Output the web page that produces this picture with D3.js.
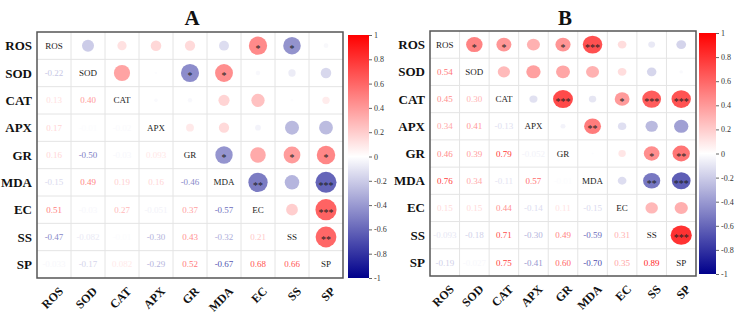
<!DOCTYPE html>
<html><head><meta charset="utf-8">
<script src="https://cdn.jsdelivr.net/npm/d3@7"></script>
<style>body{margin:0;background:#fff}svg{display:block}text{font-family:"Liberation Serif","Times New Roman",serif}</style>
</head><body><svg id="c" width="738" height="317"></svg>
<script>
const variables = ["ROS","SOD","CAT","APX","GR","MDA","EC","SS","SP"];
const corrA = [
  [1],
  [-0.22,1],
  [0.13,0.40,1],
  [0.17,-0.01,-0.02,1],
  [0.16,-0.50,-0.03,0.093,1],
  [-0.15,0.49,0.19,0.16,-0.46,1],
  [0.51,-0.03,0.27,-0.051,0.37,-0.57,1],
  [-0.47,-0.082,-0.01,-0.30,0.43,-0.32,0.21,1],
  [-0.033,-0.17,0.082,-0.29,0.52,-0.67,0.68,0.66,1]
];
const starsA = [["ROS","EC","*"],["ROS","SS","*"],["SOD","GR","*"],["SOD","MDA","*"],["GR","MDA","*"],["GR","SS","*"],["GR","SP","*"],["MDA","EC","**"],["MDA","SP","***"],["EC","SP","***"],["SS","SP","**"]];
const corrB = [
  [1],
  [0.54,1],
  [0.45,0.30,1],
  [0.34,0.41,-0.13,1],
  [0.46,0.39,0.79,-0.052,1],
  [0.76,0.34,-0.11,0.57,-0.01,1],
  [0.15,0.15,0.44,-0.14,0.11,-0.15,1],
  [-0.093,-0.18,0.71,-0.30,0.49,-0.59,0.31,1],
  [-0.19,-0.027,0.75,-0.41,0.60,-0.70,0.35,0.89,1]
];
const starsB = [["ROS","SOD","*"],["ROS","CAT","*"],["ROS","GR","*"],["ROS","MDA","***"],["CAT","GR","***"],["CAT","EC","*"],["CAT","SS","***"],["CAT","SP","***"],["APX","MDA","**"],["GR","SS","*"],["GR","SP","**"],["MDA","SS","**"],["MDA","SP","***"],["SS","SP","***"]];
const colorTicks = [1,0.8,0.6,0.4,0.2,0,-0.2,-0.4,-0.6,-0.8,-1];

const svg = d3.select("#c");
const color = d3.scaleLinear().domain([-1,0,1]).range(["#00008B","#FFFFFF","#FF0000"]);
const hy = s => s.replace(/\u2212/g,"-");
const fmt = v => hy(Math.abs(v) < 0.1 ? d3.format(".2")(v) : d3.format(".2f")(v));

function panel(cfg, idx){
  const g = svg.append("g");
  const x = d3.scaleBand().domain(variables).range([cfg.x0, cfg.x1]);
  const y = d3.scaleBand().domain(variables).range([cfg.y0, cfg.y1]);
  const corr = cfg.corr;
  const val = (i,j) => i>=j ? corr[i][j] : corr[j][i];
  variables.forEach((v,i)=>{
    if(i>0){
      g.append("line").attr("x1",x(v)).attr("x2",x(v)).attr("y1",cfg.y0).attr("y2",cfg.y1).attr("stroke","#e4e4e4").attr("stroke-width",1);
      g.append("line").attr("y1",y(v)).attr("y2",y(v)).attr("x1",cfg.x0).attr("x2",cfg.x1).attr("stroke","#e4e4e4").attr("stroke-width",1);
    }
  });
  const cx = v => x(v)+x.bandwidth()/2, cy = v => y(v)+y.bandwidth()/2;
  variables.forEach((rv,i)=>{
    variables.forEach((cv,j)=>{
      const v = val(i,j);
      if(i===j){
        g.append("text").attr("x",cx(cv)).attr("y",cy(rv)).attr("dy","0.35em").attr("text-anchor","middle").attr("font-size",9).attr("fill","#222").text(rv);
      } else if(i>j){
        g.append("text").attr("x",cx(cv)).attr("y",cy(rv)).attr("dy","0.35em").attr("text-anchor","middle").attr("font-size",9).attr("fill",color(v)).text(fmt(v));
      } else {
        const s = Math.sqrt(Math.abs(v));
        g.append("ellipse").attr("cx",cx(cv)).attr("cy",cy(rv)).attr("rx",cfg.rx*s).attr("ry",cfg.ry*s).attr("fill",color(v)).attr("opacity",0.9);
      }
    });
  });
  cfg.stars.forEach(([r,c,s])=>{
    g.append("text").attr("x",cx(c)).attr("y",cy(r)).attr("dy","0.62em").attr("text-anchor","middle").attr("font-size",10).attr("fill","#222").text(s);
  });
  g.append("rect").attr("x",cfg.x0).attr("y",cfg.y0).attr("width",cfg.x1-cfg.x0).attr("height",cfg.y1-cfg.y0).attr("fill","none").attr("stroke","#555").attr("stroke-width",1.5);
  variables.forEach(v=>{
    g.append("text").attr("x",cfg.x0-5).attr("y",cy(v)).attr("dy","0.35em").attr("text-anchor","end").attr("font-size",13).attr("font-weight","bold").attr("fill","#111").text(v);
    g.append("text").attr("transform",`translate(${cx(v)+7},${cfg.y1+11}) rotate(-45)`).attr("text-anchor","end").attr("font-size",12).attr("font-weight","bold").attr("fill","#111").attr("dy","0.35em").text(v);
  });
  g.append("text").attr("x",cfg.tx).attr("y",25).attr("text-anchor","middle").attr("font-size",21).attr("font-weight","bold").attr("fill","#111").text(cfg.title);
  const gid = "grad"+idx;
  const grad = svg.append("defs").append("linearGradient").attr("id",gid).attr("x1",0).attr("x2",0).attr("y1",0).attr("y2",1);
  d3.range(0,1.0001,0.05).forEach(t=>{
    grad.append("stop").attr("offset",t).attr("stop-color",color(1-2*t));
  });
  g.append("rect").attr("x",cfg.cbx).attr("y",cfg.cby0).attr("width",cfg.cbw).attr("height",cfg.cby1-cfg.cby0).attr("fill",`url(#${gid})`);
  const cs = d3.scaleLinear().domain([1,-1]).range([cfg.cby0,cfg.cby1]);
  const ax = d3.axisRight(cs).tickValues(colorTicks).tickSize(3).tickFormat(d=>hy(d3.format("")(d)));
  const axg = g.append("g").attr("transform",`translate(${cfg.cbx+cfg.cbw},0)`).call(ax);
  axg.select(".domain").remove();
  axg.selectAll("line").attr("stroke","#666");
  axg.selectAll("text").attr("font-size",8).attr("fill","#333").attr("x",5);
}

panel({x0:37,x1:343,y0:32,y1:278,corr:corrA,stars:starsA,rx:12.8,ry:12.8,title:"A",tx:192,cbx:348,cbw:21,cby0:35,cby1:278},0);
panel({x0:430,x1:696,y0:31,y1:276,corr:corrB,stars:starsB,rx:11.2,ry:10.2,title:"B",tx:565,cbx:699,cbw:17,cby0:33,cby1:274},1);
</script></body></html>
